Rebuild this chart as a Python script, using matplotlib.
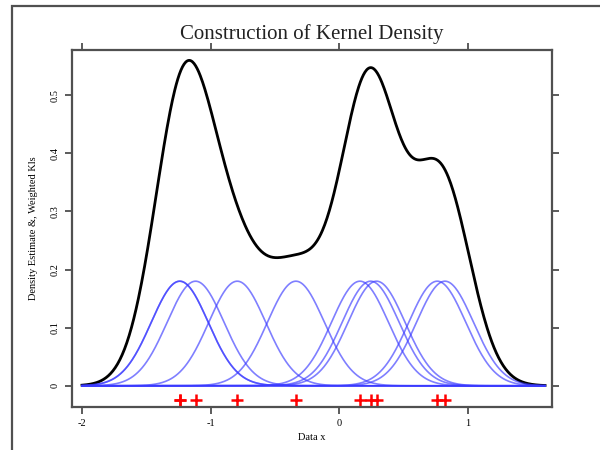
import numpy as np
import matplotlib
matplotlib.use('Agg')
import matplotlib.pyplot as plt
from matplotlib.patches import Rectangle

# sample points; -1.24 appears twice
data_x = [-1.24, -1.24, -1.117, -0.793, -0.337, 0.161, 0.244, 0.29, 0.762, 0.822]
bandwidth = 0.2216
grid_lo, grid_hi = -2.0, 1.6

x_ticks = [-2, -1, 0, 1]
y_ticks = [0, 0.1, 0.2, 0.3, 0.4, 0.5]
y_tick_labels = ['0', '0.1', '0.2', '0.3', '0.4', '0.5']

plt.rcParams['font.family'] = ['Liberation Serif', 'DejaVu Serif']

fig = plt.figure(figsize=(6, 4.5), dpi=100)
ax = fig.add_axes([0.1195, 0.0962, 0.8005, 0.7928])

# outer frame of the original figure window
fig.patches.append(Rectangle((0.02, -0.1), 1.2, 1.087, transform=fig.transFigure,
                             fill=False, edgecolor='#505050', linewidth=1.6))

xs = np.linspace(grid_lo, grid_hi, 600)
n = len(data_x)
kernels = [np.exp(-0.5 * ((xs - xi) / bandwidth) ** 2) / (n * bandwidth * np.sqrt(2 * np.pi))
           for xi in data_x]
dens = np.sum(kernels, axis=0)

ax.plot(xs, dens, color='black', lw=2.0)
for k in kernels:
    ax.plot(xs, k, color='#3a3aff', lw=1.2, alpha=0.65)
ax.plot(data_x, [-0.0246] * n, '+', color='red', ms=8, mew=1.8)

ax.set_xlim(-2.08, 1.654)
ax.set_ylim(-0.036, 0.578)
ax.set_xticks(x_ticks)
ax.set_xticklabels([str(t) for t in x_ticks], fontsize=7.5)
ax.set_yticks(y_ticks)
ax.set_yticklabels(y_tick_labels, fontsize=7.5, rotation=90, va='center')
ax.tick_params(direction='out', length=5, width=1.2, color='#404040',
               top=True, right=True, labeltop=False, labelright=False)
for s in ax.spines.values():
    s.set_linewidth(1.6)
    s.set_color('#505050')

ax.set_title('Construction of Kernel Density', fontsize=15, pad=8, color='#222222')
ax.set_xlabel('Data x', fontsize=7.5, labelpad=4)
ax.set_ylabel('Density Estimate &, Weighted Kls', fontsize=7.5, labelpad=9)

fig.savefig('out.png', dpi=100)
